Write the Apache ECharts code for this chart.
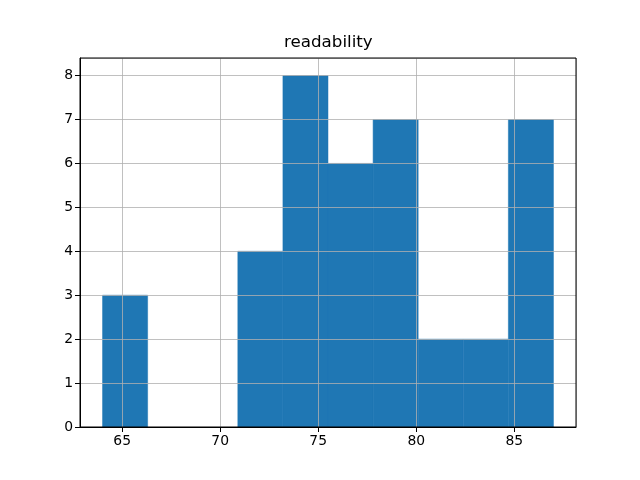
<!DOCTYPE html>
<html>
<head>
<meta charset="utf-8">
<script src="https://cdn.jsdelivr.net/npm/echarts@6/dist/echarts.min.js"></script>
<style>html,body{margin:0;padding:0;background:#fff}#c{width:640px;height:480px}</style>
</head>
<body>
<div id="c"></div>
<script>
const title = "readability";
const binStart = [64.0, 66.3, 68.6, 70.9, 73.2, 75.5, 77.8, 80.1, 82.4, 84.7];
const binEnd   = [66.3, 68.6, 70.9, 73.2, 75.5, 77.8, 80.1, 82.4, 84.7, 87.0];
const counts   = [3, 0, 0, 4, 8, 6, 7, 2, 2, 7];

const data = binStart.map((s, i) => [s, binEnd[i], counts[i]]);
const font = 'DejaVu Sans';
const chart = echarts.init(document.getElementById('c'), null, {renderer: 'canvas'});
chart.setOption({
  animation: false,
  title: {text: title, left: 284, top: 34, padding: 0,
    textStyle: {fontFamily: font, fontSize: 16.7, fontWeight: 'normal', color: '#000'}},
  grid: {left: 80, right: 64, top: 58, bottom: 53, show: true, borderColor: '#000', borderWidth: 1, backgroundColor: 'transparent', z: 4},
  xAxis: {type: 'value', min: 62.85, max: 88.15, z: 3,
    axisLine: {show: true, onZero: false, lineStyle: {color: '#000', width: 1}},
    axisTick: {show: true, length: 5, lineStyle: {color: '#000'}},
    axisLabel: {fontFamily: font, fontSize: 13.9, color: '#000', margin: 7, showMinLabel: false, showMaxLabel: false},
    splitLine: {show: true, lineStyle: {color: '#b0b0b0', width: 0.8}}},
  yAxis: {type: 'value', min: 0, max: 8.4, interval: 1, z: 3,
    axisLine: {show: true, lineStyle: {color: '#000', width: 1}},
    axisTick: {show: true, length: 5, lineStyle: {color: '#000'}},
    axisLabel: {fontFamily: font, fontSize: 13.9, color: '#000', margin: 7, showMaxLabel: false},
    splitLine: {show: true, lineStyle: {color: '#b0b0b0', width: 0.8}}},
  series: [{
    type: 'custom', z: 1,
    renderItem: function (params, api) {
      if (api.value(2) <= 0) return null;
      const p0 = api.coord([api.value(0), api.value(2)]);
      const p1 = api.coord([api.value(1), 0]);
      return {type: 'rect', shape: {x: p0[0], y: p0[1], width: p1[0] - p0[0], height: p1[1] - p0[1]},
        style: {fill: '#1f77b4', stroke: '#1f77b4', lineWidth: 0.5}};
    },
    encode: {x: [0, 1], y: 2},
    data: data
  }]
});
</script>
</body>
</html>
